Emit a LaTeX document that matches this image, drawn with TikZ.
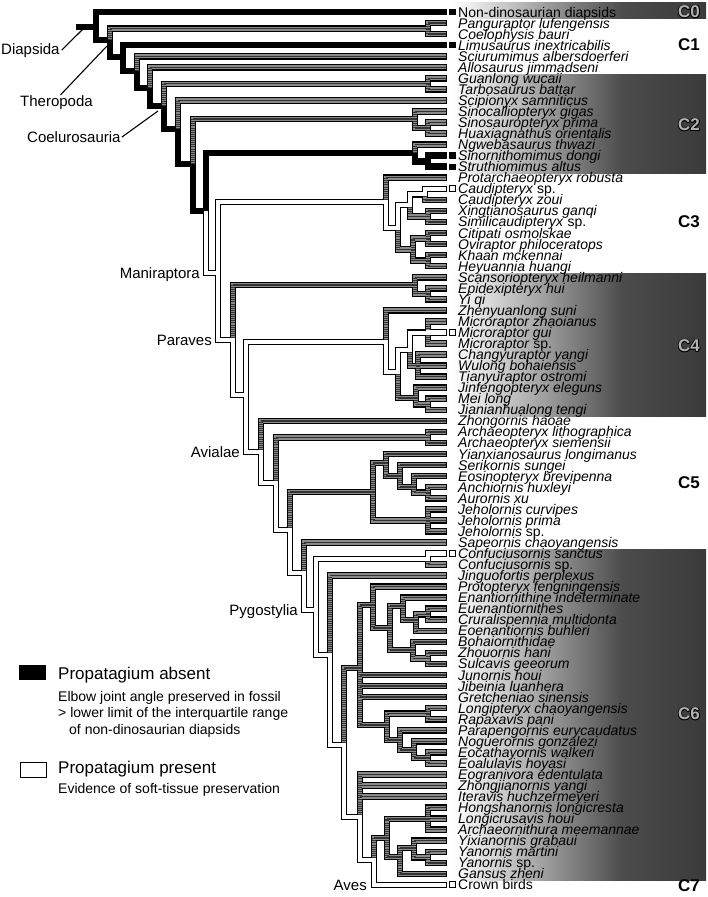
\documentclass[tikz,border=0pt]{standalone}
\usepackage{fontspec}
\setmainfont{Liberation Sans}
\usetikzlibrary{positioning}

\definecolor{hatchgray}{HTML}{8A8A8A}
\definecolor{hatchline}{HTML}{333333}
\definecolor{boxmid}{HTML}{4C4C4C}
\definecolor{boxdark}{HTML}{3A3A3A}

\newcommand\absentedges{R0/L1, R0/n1, n1/n2, n2/L4, n2/n3, n3/n4, n4/n5, n5/n6, n6/n7, n7/n8,
  n8/Corn, Corn/Corn2, Corn2/L14, Corn2/L15}
\newcommand\unknownedges{n1/Cpc, Cpc/L2, Cpc/L3, n3/L5, n4/L6, n5/Ctyr, Ctyr/L7, Ctyr/L8, n6/L9,
  n7/Ccomp, Ccomp/L10, Ccomp/Ccomp2, Ccomp2/L11, Ccomp2/L12, Corn/L13,
  Ovi/L16, CaudC/L18, O2/XS, XS/L19, XS/L20, O1/Ovr, Ovr/CO, CO/L21, CO/L22, Ovr/KH, KH/L23, KH/L24,
  n10/Sc, Sc/L25, Sc/EY, EY/L26, EY/L27,
  D0/L28, Mc/L29, Mc/L31, D2/D3, D3/L32, D3/L33, D3/L34, D1/T0, T0/L35, T0/MJ, MJ/L36, MJ/L37,
  n12/L38, A1/Arch, Arch/L39, Arch/L40, A2/AJ, AJ/AN0, AN0/L41, AN0/AN1, AN1/L42, AN1/AN2,
  AN2/L43, AN2/AA, AA/L44, AA/L45, AJ/JH, JH/L46, JH/L47, JH/L48,
  A3/L49, Conf/L51, P1/L52, P2/E0, E0/E1, E1/L53, E1/E2, E2/E3, E3/L54, E3/E3b, E3b/EC, EC/L55,
  EC/L56, E3b/L57, E2/E4, E4/L58, E4/ZS, ZS/L59, ZS/L60, E0/L61, E0/L62, E0/L63, E0/E6, E6/LR,
  LR/L64, LR/L65, E6/E7, E7/L66, E7/E8, E8/L67, E8/EE, EE/L68, EE/L69,
  P3/L70, P3/L71, P3/L72, P4/OH, OH/H1, H1/L73, H1/L74, H1/L75, OH/Y0, Y0/Y1, Y1/L76, Y1/YY,
  YY/L77, YY/L78, Y0/L79}
\newcommand\presentedges{n8/n9, n9/Ovi, Ovi/O1, O1/O2, O2/CaudC, CaudC/L17, n9/n10, n10/n11,
  n11/D0, D0/D1, D1/D2, D2/Mc, Mc/L30, n11/n12, n12/A1, A1/A2, A2/A3, A3/P0, P0/Conf, Conf/L50,
  P0/P1, P1/P2, P2/P3, P3/P4, P4/L80}

\begin{document}
\begin{tikzpicture}[x=1pt, y=-1pt,
  outer/.style = {line width=6.6pt, line cap=rect},
  inner/.style = {line width=4.2pt, shorten >=-1.9pt},
  hatchv/.style = {line width=4.2pt, hatchline, dash pattern=on 0.8pt off 1.3pt},
  hatchh/.style = {line width=1.3pt, hatchline, shorten >=-1.9pt},
  taxon/.style = {anchor=base west, inner sep=0, text height=8pt, text depth=1pt,
    font=\fontsize{14}{14}\selectfont\itshape},
  clade/.style = {anchor=base east, inner sep=0, font=\fontsize{15}{15}\selectfont},
  pointer/.style = {line width=1.1pt},
  tipabsent/.style = {fill=black, minimum size=6.4pt, inner sep=0},
  tippresent/.style = {draw, line width=1pt, fill=white, minimum size=6pt, inner sep=0},
  ctag/.style = {font=\fontsize{17}{17}\selectfont\bfseries, inner sep=0},
  keybox/.style = {draw, line width=1.2pt, minimum width=26pt, minimum height=14.5pt, inner sep=0},
  keytitle/.style = {anchor=base west, inner sep=0, font=\fontsize{17}{17}\selectfont},
  keytext/.style = {anchor=base west, inner sep=0, font=\fontsize{14}{14}\selectfont}]
\useasboundingbox (0,0) rectangle (708,897);

\foreach \top/\bot in {2/18.5, 74/173, 273/416.5, 549/880.5} {
  \shade[left color=white, right color=boxmid] (453,\top) rectangle (622,\bot);
  \shade[left color=boxmid, right color=boxdark] (622,\top) rectangle (706,\bot);
}

\foreach \taxon [count=\r] in {\textup{Non-dinosaurian diapsids}, Panguraptor lufengensis,
  Coelophysis bauri, Limusaurus inextricabilis, Sciurumimus albersdoerferi, Allosaurus jimmadseni,
  Guanlong wucaii, Tarbosaurus battar, Scipionyx samniticus, Sinocalliopteryx gigas,
  Sinosauropteryx prima, Huaxiagnathus orientalis, Ngwebasaurus thwazi, Sinornithomimus dongi,
  Struthiomimus altus, Protarchaeopteryx robusta, Caudipteryx \textup{sp.}, Caudipteryx zoui,
  Xingtianosaurus ganqi, Similicaudipteryx \textup{sp.}, Citipati osmolskae, Oviraptor philoceratops,
  Khaan mckennai, Heyuannia huangi, Scansoriopteryx heilmanni, Epidexipteryx hui, Yi qi,
  Zhenyuanlong suni, Microraptor zhaoianus, Microraptor gui, Microraptor \textup{sp.},
  Changyuraptor yangi, Wulong bohaiensis, Tianyuraptor ostromi, Jinfengopteryx eleguns, Mei long,
  Jianianhualong tengi, Zhongornis haoae, Archaeopteryx lithographica, Archaeopteryx siemensii,
  Yianxianosaurus longimanus, Serikornis sungei, Eosinopteryx brevipenna, Anchiornis huxleyi,
  Aurornis xu, Jeholornis curvipes, Jeholornis prima, Jeholornis \textup{sp.},
  Sapeornis chaoyangensis, Confuciusornis sanctus, Confuciusornis \textup{sp.},
  Jinguofortis perplexus, Protopteryx fengningensis, Enantiornithine indeterminate,
  Euenantiornithes, Cruralispennia multidonta, Eoenantiornis buhleri, Bohaiornithidae,
  Zhouornis hani, Sulcavis geeorum, Junornis houi, Jibeinia luanhera, Gretcheniao sinensis,
  Longipteryx chaoyangensis, Rapaxavis pani, Parapengornis eurycaudatus, Noguerornis gonzalezi,
  Eocathayornis walkeri, Eoalulavis hoyasi, Eogranivora edentulata, Zhongjianornis yangi,
  Iteravis huchzermeyeri, Hongshanornis longicresta, Longicrusavis houi, Archaeornithura meemannae,
  Yixianornis grabaui, Yanornis martini, Yanornis \textup{sp.}, Gansus zheni, \textup{Crown birds}} {
  \coordinate (L\r) at (444,{12+(\r-1)*11.05});
  \node[taxon] (t\r) at (458,{17+(\r-1)*11.05}) {\taxon};
}

\foreach \n/\x/\y in {stub/79/27, R0/96/27, n1/110/40, Cpc/428/28.6, n2/123/57, n3/137/71,
  n4/150/88, n5/164/106, Ctyr/428/83.8, n6/178/129, n7/193/164, Ccomp/415/119, Ccomp2/428/128,
  n8/206/211, Corn/415/153, Corn2/428/161.2, n9/218/273, Ovi/386/202, O1/398/228, O2/410/205,
  CaudC/425/194.3, XS/428/216.4, Ovr/413/249.5, CO/428/238.5, KH/428/260.6, n10/233/340,
  Sc/415/285, EY/428/293.8, n11/246/395, D0/386/342, D1/398/372, D2/410/350, Mc/428/332.7,
  D3/418/365.8, T0/416/398, MJ/428/404.3, n12/261/452, A1/276/483, Arch/428/437.4, A2/290/530,
  AJ/373/492, AN0/386/463, AN1/400/476, AN2/414/487, AA/428/492.7, JH/428/520.5, A3/304/573,
  P0/316/610, Conf/428/559, P1/330/655, P2/344/745, E0/360/668, E1/373/605, E2/390/628,
  E3/403/606, E3b/416/620, EC/428/614.2, E4/413/650, ZS/428/658.4, E6/387/725, LR/428/713.7,
  E7/400/740, E8/414/750, EE/428/757.9, P3/360/817, P4/374/860, OH/387/838, H1/428/818.9,
  Y0/400/857, Y1/414/848, YY/428/857.3}
  \coordinate (\n) at (\x,\y);

\draw[outer] (stub) -- (R0);
\foreach \a/\b in \absentedges {\draw[outer] (\a) |- (\b);}
\foreach \a/\b in \unknownedges {\draw[outer] (\a) |- (\b);}
\foreach \a/\b in \presentedges {\draw[outer] (\a) |- (\b);}
\foreach \a/\b in \unknownedges {\draw[inner, hatchgray] (\a) |- (\b);}
\foreach \a/\b in \unknownedges {
  \draw[hatchv] (\a) -- (\a |- \b);
  \draw[hatchh] (\a |- \b) -- (\b);
}
\foreach \a/\b in \presentedges {\draw[inner, white] (\a) |- (\b);}

\foreach \r in {1,4,14,15} \node[tipabsent, right=5pt of L\r] (tip\r) {};
\foreach \r in {17,30,50,80} \node[tippresent, right=5.2pt of L\r] (tip\r) {};

\node[clade, anchor=base west] (diapsida) at (1,54) {Diapsida};
\node[clade, anchor=base west] (theropoda) at (20,106) {Theropoda};
\node[clade, anchor=base west] (coelurosauria) at (27,142.5) {Coelurosauria};
\coordinate (diapsidatip) at (83,29);
\coordinate (theropodatip) at (107,46);
\coordinate (coelurosauriatip) at (158,111);
\draw[pointer] ([xshift=2pt]diapsida.east) -- (diapsidatip);
\draw[pointer] ([xshift=4pt]theropoda.north) -- (theropodatip);
\draw[pointer] ([xshift=1pt]coelurosauria.east) -- (coelurosauriatip);
\node[clade] (maniraptora) at (200,278.4) {Maniraptora};
\node[clade] (paraves) at (212,345.4) {Paraves};
\node[clade] (avialae) at (240,457.4) {Avialae};
\node[clade] (pygostylia) at (298,615.4) {Pygostylia};
\node[clade] (aves) at (367,890.4) {Aves};

\foreach \y/\c in {45/C1, 222/C3, 483/C5, 886/C7} \node[ctag] (\c) at (689,\y) {\c};
\foreach \y/\c in {12/C0, 125/C2, 346/C4, 714/C6} {
  \foreach \dx/\dy in {-0.8/0, 0.8/0, 0/-0.8, 0/0.8, -0.6/-0.6, 0.6/0.6, -0.6/0.6, 0.6/-0.6}
    \node[ctag, xshift=\dx pt, yshift=\dy pt] at (689,\y) {\c};
  \node[ctag, text=black!30] (\c) at (689,\y) {\c};
}

\node[keybox, fill=black] (absentkey) at (32.5,672.5) {};
\node[keytitle] (absenttitle) at (58,679) {Propatagium absent};
\node[keytext] (absentnote1) at (58,701.5) {Elbow joint angle preserved in fossil};
\node[keytext] (absentnote2) at (58,717.5) {> lower limit of the interquartile range};
\node[keytext] (absentnote3) at (69,734) {of non-dinosaurian diapsids};
\node[keybox, fill=white] (presentkey) at (33.5,770) {};
\node[keytitle] (presenttitle) at (58,773) {Propatagium present};
\node[keytext] (presentnote) at (58,793) {Evidence of soft-tissue preservation};
\end{tikzpicture}
\end{document}
